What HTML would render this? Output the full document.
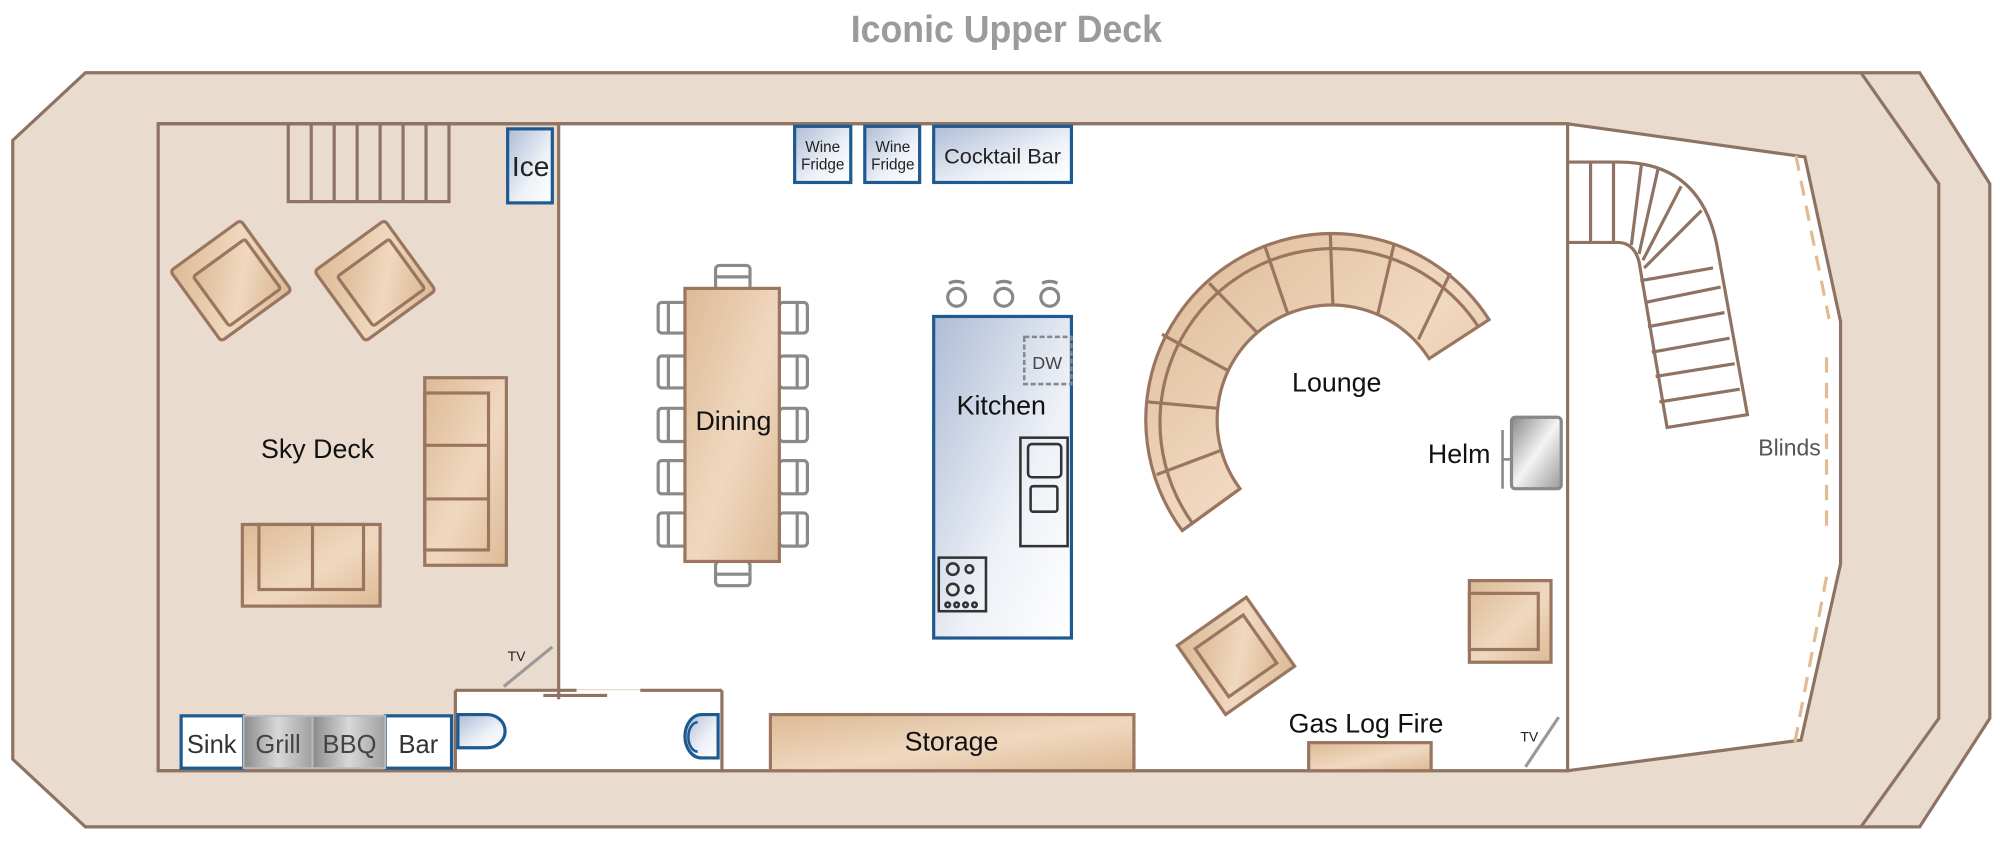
<!DOCTYPE html>
<html><head><meta charset="utf-8"><style>html,body{margin:0;padding:0;background:#fff}svg{display:block}text{font-family:"Liberation Sans Narrow","Liberation Sans",sans-serif}</style></head>
<body>
<svg width="2000" height="846" viewBox="0 0 1568 663" preserveAspectRatio="none" xmlns="http://www.w3.org/2000/svg">
<defs>
<linearGradient id="tan" x1="0" y1="0" x2="1" y2="1"><stop offset="0" stop-color="#dcba95"/><stop offset="0.55" stop-color="#f0d8c0"/><stop offset="1" stop-color="#dcba95"/></linearGradient>
<linearGradient id="blu" x1="0" y1="0" x2="1" y2="1"><stop offset="0" stop-color="#aebcd6"/><stop offset="0.6" stop-color="#eef1f7"/><stop offset="1" stop-color="#ffffff"/></linearGradient>
<linearGradient id="gry" x1="0" y1="0" x2="1" y2="0"><stop offset="0" stop-color="#8a8a8a"/><stop offset="0.5" stop-color="#d8d8d8"/><stop offset="1" stop-color="#a0a0a0"/></linearGradient>
<linearGradient id="hel" x1="0" y1="0" x2="1" y2="1"><stop offset="0" stop-color="#888"/><stop offset="0.5" stop-color="#f4f4f4"/><stop offset="1" stop-color="#999"/></linearGradient>
</defs>
<text x="789" y="33" text-anchor="middle" font-size="30" font-weight="bold" fill="#9b9b9b" textLength="244" lengthAdjust="spacingAndGlyphs">Iconic Upper Deck</text>
<g stroke="#8e7262" stroke-width="2.5">
<polygon points="10,110 67,57 1505,57 1560,144 1560,563 1505,648 67,648 10,595" fill="#e9dccf"/>
<polyline points="1459,57 1520,144 1520,563 1459,648" fill="none"/>
<rect x="124" y="97" width="1105" height="507" fill="#e9dccf"/>
<polygon points="438,97 1229,97 1229,604 566,604 566,540 438,540" fill="#fff" stroke="none"/>
<rect x="357" y="541" width="209" height="63" fill="#fff" stroke="none"/>
<line x1="438" y1="97" x2="438" y2="548"/>
<line x1="124" y1="97" x2="1229" y2="97"/>
<polygon points="1229,97 1415,123 1443,252 1443,442 1412,580 1229,604" fill="#fff"/>
<line x1="357" y1="541" x2="452" y2="541"/><line x1="426" y1="545" x2="476" y2="545"/><line x1="502" y1="541" x2="566" y2="541"/>
<line x1="357" y1="541" x2="357" y2="604"/><line x1="566" y1="541" x2="566" y2="604"/>
<line x1="124" y1="604" x2="1229" y2="604"/>
</g>
<g stroke="#8e7262" stroke-width="2.5" fill="none">
<rect x="226" y="97" width="126" height="61"/>
<path d="M244 97V158M262 97V158M280 97V158M298 97V158M316 97V158M334 97V158"/>
</g>
<g stroke="#1d5a92" stroke-width="2.5" fill="url(#blu)">
<rect x="398" y="101" width="35" height="58"/>
<rect x="623" y="99" width="44" height="44"/>
<rect x="678" y="99" width="43" height="44"/>
<rect x="732" y="99" width="108" height="44"/>
<rect x="732" y="248" width="108" height="252"/>
<rect x="142" y="561" width="49" height="41" fill="#fff"/>
<rect x="302" y="561" width="52" height="41" fill="#fff"/>
<path d="M359 560H382A14 13 0 0 1 382 586H359Z"/>
<path d="M563 560V594H550A13 17 0 0 1 550 560Z"/>
</g>
<path d="M547 566A7 11 0 0 0 547 589" fill="none" stroke="#1d5a92" stroke-width="2"/>
<g fill="url(#gry)" stroke="#bbb" stroke-width="1.5"><rect x="191" y="561" width="54" height="41"/><rect x="245" y="561" width="57" height="41"/></g>
<g font-size="20" fill="#222" text-anchor="middle">
<text x="416" y="138" font-size="22">Ice</text>
<text x="645" y="119" font-size="12">Wine</text><text x="645" y="133" font-size="12">Fridge</text>
<text x="700" y="119" font-size="12">Wine</text><text x="700" y="133" font-size="12">Fridge</text>
<text x="786" y="128" font-size="17">Cocktail Bar</text>
<text x="166" y="590" fill="#333">Sink</text><text x="218" y="590" fill="#444">Grill</text><text x="274" y="590" fill="#444">BBQ</text><text x="328" y="590" fill="#333">Bar</text>
</g>
<rect x="803" y="264" width="37" height="37" fill="none" stroke="#888" stroke-width="2" stroke-dasharray="4,2"/>
<text x="821" y="289" font-size="14" fill="#444" text-anchor="middle">DW</text>
<g stroke="#333" stroke-width="2" fill="none">
<rect x="800" y="343" width="37" height="85"/><rect x="806" y="348" width="26" height="26" rx="3"/><rect x="808" y="381" width="21" height="20" rx="2"/>
<rect x="736" y="437" width="37" height="42"/><circle cx="747" cy="446" r="4.5"/><circle cx="760" cy="446" r="3"/><circle cx="747" cy="462" r="4.5"/><circle cx="760" cy="462" r="3"/>
<circle cx="743" cy="474" r="1.8"/><circle cx="750" cy="474" r="1.8"/><circle cx="757" cy="474" r="1.8"/><circle cx="764" cy="474" r="1.8"/>
</g>
<g stroke="#888" stroke-width="2.5" fill="none">
<circle cx="750" cy="233" r="7"/><circle cx="787" cy="233" r="7"/><circle cx="823" cy="233" r="7"/>
<path d="M744 222Q750 219 756 222M781 222Q787 219 793 222M817 222Q823 219 829 222"/>
</g>
<g stroke="#8a8a8a" stroke-width="2.5" fill="#fff">
<rect x="561" y="208" width="27" height="19" rx="3"/><rect x="561" y="440" width="27" height="19" rx="3"/>
<rect x="516" y="237" width="22" height="24" rx="3"/><rect x="516" y="279" width="22" height="25" rx="3"/><rect x="516" y="320" width="22" height="26" rx="3"/><rect x="516" y="361" width="22" height="26" rx="3"/><rect x="516" y="402" width="22" height="26" rx="3"/>
<rect x="611" y="237" width="22" height="24" rx="3"/><rect x="611" y="279" width="22" height="25" rx="3"/><rect x="611" y="320" width="22" height="26" rx="3"/><rect x="611" y="361" width="22" height="26" rx="3"/><rect x="611" y="402" width="22" height="26" rx="3"/>
<path d="M561 217H588M561 450H588M524 237V261M524 279V304M524 320V346M524 361V387M524 402V428M625 237V261M625 279V304M625 320V346M625 361V387M625 402V428" fill="none"/>
</g>
<g stroke="#9a7560" stroke-width="2.5" fill="url(#tan)">
<rect x="537" y="226" width="74" height="214"/>
<g transform="translate(181,220) rotate(-36)"><rect x="-34" y="-34" width="68" height="68" rx="3"/><rect x="-22" y="-20" width="50" height="48" rx="2"/></g>
<g transform="translate(294,220) rotate(-36)"><rect x="-34" y="-34" width="68" height="68" rx="3"/><rect x="-22" y="-20" width="50" height="48" rx="2"/></g>
<rect x="333" y="296" width="64" height="147"/><rect x="333" y="308" width="50" height="123" fill="none"/><path d="M333 349H383M333 391H383" fill="none"/>
<rect x="190" y="411" width="108" height="64"/><rect x="203" y="411" width="82" height="51" fill="none"/><path d="M245 411V462" fill="none"/>
<g transform="translate(969,514) rotate(-35)"><rect x="-33" y="-33" width="66" height="66"/><rect x="-23" y="-23" width="46" height="46"/></g>
<rect x="1152" y="455" width="64" height="64"/><rect x="1152" y="465" width="54" height="44" fill="none"/>
<rect x="604" y="560" width="285" height="44"/>
<rect x="1026" y="582" width="96" height="22"/>
<path d="M926.9 415.8A146 146 0 1 1 1167.4 250.5L1120.4 281.1A90 90 0 1 0 972.2 383.0Z"/>
<path d="M935.0 410.2A136 136 0 1 1 1159.0 256.0" fill="none"/>
<path d="M972.2 383.0L926.9 415.8M958.6 352.5L906.8 372.0M955.0 320.0L900.0 315.0M962.0 290.0L911.0 262.0M985.0 260.0L948.0 222.0M1010.0 247.0L992.0 194.0M1045.0 240.0L1043.0 184.0M1080.0 247.0L1093.0 191.0M1112.0 266.0L1137.0 214.0" fill="none"/>
</g>
<rect x="1185" y="327" width="39" height="56" rx="3" fill="url(#hel)" stroke="#888" stroke-width="2.5"/>
<line x1="1178" y1="337" x2="1178" y2="383" stroke="#888" stroke-width="2"/><line x1="1178" y1="360" x2="1185" y2="360" stroke="#888" stroke-width="2"/>
<g stroke="#999" stroke-width="2.5"><line x1="395" y1="538" x2="433" y2="507"/><line x1="1196" y1="601" x2="1222" y2="562"/></g>
<g font-size="11" fill="#222" text-anchor="middle"><text x="405" y="518">TV</text><text x="1199" y="581">TV</text></g>
<g stroke="#8e7262" stroke-width="2.5" fill="none">
<path d="M1229 127H1269Q1333 127 1346 192L1370 325L1307 335L1285 205Q1281 190 1268 190H1229"/>
<path d="M1247 127V190M1265 127V190M1279 192L1287 128M1285 199L1300 132M1288 204L1318 146M1289 210L1334 165M1286 220L1343 210"/>
<path d="M1290 237L1349 225M1292 256L1352 245M1295 276L1356 265M1298 295L1360 285M1301 315L1364 305"/>
</g>
<path d="M1408 122L1434 250M1432 280V420M1432 452L1406 588" stroke="#e2bb92" stroke-width="2.5" stroke-dasharray="12,8" fill="none"/>
<g font-size="21" fill="#111" text-anchor="middle">
<text x="249" y="359">Sky Deck</text>
<text x="575" y="337">Dining</text>
<text x="785" y="325">Kitchen</text>
<text x="1048" y="307">Lounge</text>
<text x="1144" y="363">Helm</text>
<text x="1071" y="574">Gas Log Fire</text>
<text x="746" y="588">Storage</text>
<text x="1403" y="357" font-size="18" fill="#555">Blinds</text>
</g>
</svg>
</body></html>
